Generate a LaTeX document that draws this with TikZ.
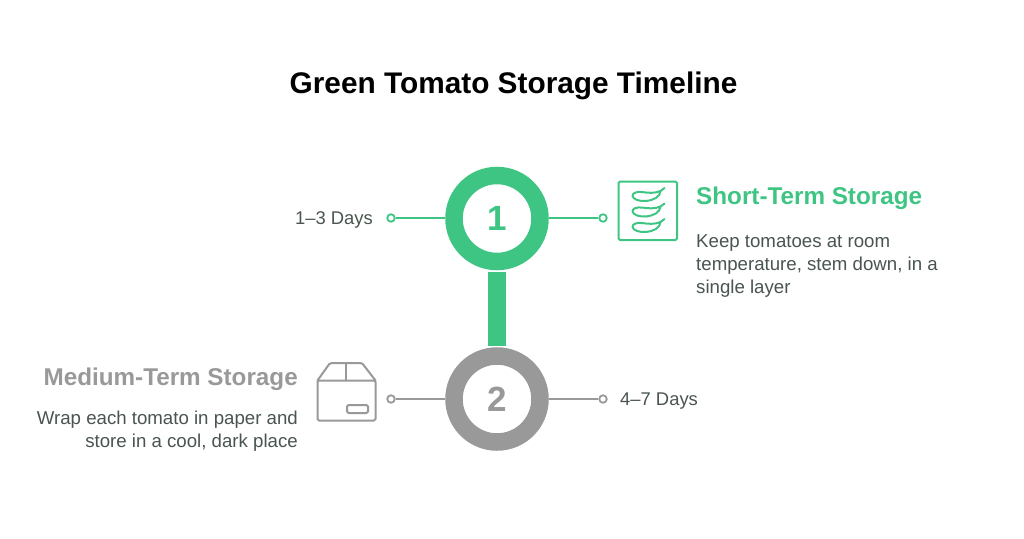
\documentclass[tikz,border=0pt]{standalone}
\usepackage{fontspec}
\setmainfont{Liberation Sans}
\definecolor{grn}{HTML}{3FC583}
\definecolor{gry}{HTML}{999999}
\definecolor{txt}{HTML}{4A554F}
\tikzset{
  x=1pt,y=-1pt,
  ring/.style={circle,line width=17.5pt,minimum size=86pt,inner sep=0pt,font=\fontsize{35}{35}\selectfont\bfseries},
  stub/.style={line width=2pt},
  dot/.style={circle,draw,fill=white,line width=1.8pt,minimum size=7.5pt,inner sep=0pt},
  lbl/.style={font=\fontsize{18.4}{18.4}\selectfont,text=txt,inner sep=0pt},
  head/.style={font=\fontsize{24.25}{24.25}\selectfont\bfseries,inner sep=0pt},
  body/.style={font=\fontsize{18.65}{23}\selectfont,text=txt,inner sep=0pt},
  icon/.style={line width=2pt,line join=round,line cap=round}
}
\begin{document}
\begin{tikzpicture}
\useasboundingbox (0,0) rectangle (1024,538);
\fill[white] (0,0) rectangle (1024,538);
\node[font=\fontsize{29.8}{29.8}\selectfont\bfseries,inner sep=0pt] (title) at (513.5,86) {Green Tomato Storage Timeline};

\node[ring,draw=grn,text=grn] (one) at (497,218.5) {1};
\node[ring,draw=gry,text=gry] (two) at (497,399) {2};
\coordinate (bartop) at (497,272);
\coordinate (barbot) at (497,346);
\draw[grn,line width=18pt] (bartop) -- (barbot);

\node[dot,draw=grn] (d1l) at (391,218) {};
\node[dot,draw=grn] (d1r) at (603,218) {};
\node[dot,draw=gry] (d2l) at (391,399) {};
\node[dot,draw=gry] (d2r) at (603,399) {};
\draw[stub,grn] (d1l) -- (d1l -| one.west);
\draw[stub,grn] (d1r -| one.east) -- (d1r);
\draw[stub,gry] (d2l) -- (two);
\draw[stub,gry] (two) -- (d2r);

\node[lbl,anchor=east] (l1) at (373,220) {1–3 Days};
\node[lbl,anchor=west] (l2) at (620,401) {4–7 Days};

\node[head,text=grn,anchor=west] (h1) at (696,198) {Short-Term Storage};
\node[body,anchor=north west,align=left] (b1) at (696,234) {Keep tomatoes at room\\temperature, stem down, in a\\single layer};
\node[head,text=gry,anchor=east] (h2) at (298,379) {Medium-Term Storage};
\node[body,anchor=north east,align=right] (b2) at (298,411) {Wrap each tomato in paper and\\store in a cool, dark place};

% chili icon
\draw[icon,grn,rounded corners=1.5pt] (618.5,181.5) rectangle (677,240);
\foreach \yy in {0,15.5,31}{
\begin{scope}[yshift=-\yy pt]
\draw[icon,grn] (664.5,188) -- (660.5,191)
  .. controls (655,193.5) and (648,193) .. (642,192)
  .. controls (636,191.5) and (632.5,193) .. (632.5,196)
  .. controls (633,199.5) and (640,201.5) .. (646,201)
  .. controls (654,200) and (660,197) .. (660.5,191);
\end{scope}
}

% box icon
\draw[icon,gry,rounded corners=1.5pt] (317.5,380.5) rectangle (375.5,420.5);
\draw[icon,gry,rounded corners=1.5pt] (317.5,380.5) -- (330,363) -- (362,363) -- (375.5,380.5);
\draw[icon,gry] (346,363) -- (346,380.5);
\draw[icon,gry,rounded corners=1.5pt] (347,405) rectangle (368,413);
\end{tikzpicture}
\end{document}
